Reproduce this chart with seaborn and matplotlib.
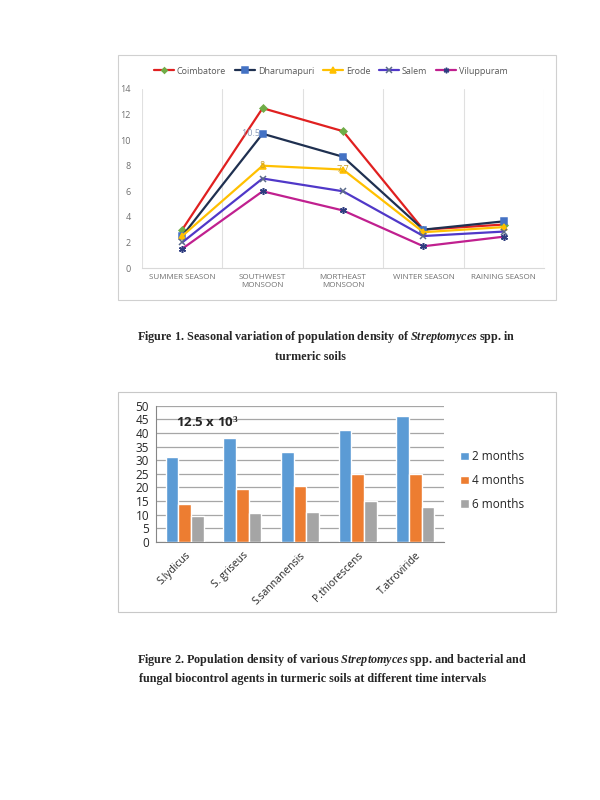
import numpy as np
import pandas as pd
import matplotlib
matplotlib.use("Agg")
import matplotlib.pyplot as plt
from matplotlib.patches import Rectangle
import seaborn as sns

# figure 1 data
seasons = ["SUMMER SEASON", "SOUTHWEST\nMONSOON", "MORTHEAST\nMONSOON", "WINTER SEASON", "RAINING SEASON"]
coimbatore = [3.0, 12.5, 10.7, 3.0, 3.4]
dharumapuri = [2.5, 10.5, 8.7, 3.0, 3.65]
erode = [2.5, 8.0, 7.7, 2.8, 3.2]
salem = [2.0, 7.0, 6.0, 2.5, 2.85]
viluppuram = [1.5, 6.0, 4.5, 1.7, 2.45]

# figure 2 data
agents = ["S.lydicus", "S. griseus", "S.sannanensis", "P.thiorescens", "T.atroviride"]
months = ["2 months", "4 months", "6 months"]
m2 = [31, 38, 33, 41, 46.2]
m4 = [14, 19.5, 20.3, 25, 24.8]
m6 = [9.3, 10.7, 11.1, 15.1, 12.9]

sns.set_style("white")
plt.rcParams['font.family'] = ['Open Sans', 'DejaVu Sans']
plt.rcParams['mathtext.fontset'] = 'custom'
plt.rcParams['mathtext.it'] = 'Liberation Serif:bold:italic'
plt.rcParams['mathtext.rm'] = 'Liberation Serif:bold'

fig = plt.figure(figsize=(6, 8), dpi=100)
W, H = 600, 800

def fbox(x0, y0, x1, y1):
    return [x0 / W, 1 - y1 / H, (x1 - x0) / W, (y1 - y0) / H]

# chart frames
fig.patches.append(Rectangle((118 / W, 1 - 300 / H), 438 / W, 245 / H, transform=fig.transFigure,
                             fill=False, edgecolor="#d0d0d0", lw=0.8))
fig.patches.append(Rectangle((118 / W, 1 - 612 / H), 438 / W, 220 / H, transform=fig.transFigure,
                             fill=False, edgecolor="#c8c8c8", lw=0.8))

# ---- figure 1: line chart
ax1 = fig.add_axes(fbox(142, 89, 544, 268))
series = [
    ("Coimbatore", coimbatore, "#e02020", "D", "#70ad47", "#70ad47", 3.5),
    ("Dharumapuri", dharumapuri, "#1f3050", "s", "#4472c4", "#4472c4", 5),
    ("Erode", erode, "#ffc000", "^", "#ffc000", "#ffc000", 5),
    ("Salem", salem, "#5038c8", "x", "#5b6b8a", "#5b6b8a", 5),
    ("Viluppuram", viluppuram, "#c0208f", (6, 2, 0), "#2f3d80", "#2f3d80", 5),
]
for name, vals, lc, mk, mfc, mec, ms in series:
    sns.lineplot(x=seasons, y=vals, ax=ax1, sort=False, color=lc, lw=1.6, marker=mk,
                 markersize=ms, markerfacecolor=mfc, markeredgecolor=mec, markeredgewidth=1.1,
                 label=name)

ax1.text(1, dharumapuri[1], "10.5 ", color="#8a9bb8", fontsize=6.5, ha="right", va="center")
ax1.text(1, erode[1], "8", color="#c9a030", fontsize=6.5, ha="center", va="center")
ax1.text(2, erode[2], "7.7", color="#c9a030", fontsize=6.5, ha="center", va="center")

ax1.set_xlim(-0.5, 4.5)
ax1.set_ylim(0, 14)
ax1.set_yticks(np.arange(0, 15, 2))
ax1.set_xticks(range(5))
ax1.set_xticklabels(seasons, fontsize=5.8, color="#707070", linespacing=1.3)
ax1.tick_params(axis="y", labelsize=6.5, labelcolor="#707070", length=0, pad=8)
ax1.tick_params(axis="x", length=0, pad=4)
ax1.set_xticks(np.arange(-0.5, 5, 1), minor=True)
ax1.grid(which="minor", axis="x", color="#e0e0e0", lw=0.8)
ax1.grid(which="major", visible=False)
for s in ["top", "right", "left"]:
    ax1.spines[s].set_visible(False)
ax1.spines["bottom"].set_color("#d9d9d9")
ax1.set_xlabel("")
ax1.set_ylabel("")
ax1.legend(loc="center", bbox_to_anchor=(0.47, 1.1), ncol=5, frameon=False, fontsize=6.5,
           handlelength=2.2, columnspacing=1.0, handletextpad=0.3, labelcolor="#595959",
           markerscale=0.8)

fig.text(326 / W, 1 - 337 / H, r"Figure 1. Seasonal variation of population density of $\it{Streptomyces}$ spp. in",
         ha="center", va="center", fontsize=8.75, fontweight="bold", family="Liberation Serif")
fig.text(310 / W, 1 - 357 / H, "turmeric soils", ha="center", va="center", fontsize=8.75,
         fontweight="bold", family="Liberation Serif")

# ---- figure 2: grouped bar chart
df2 = pd.DataFrame({
    "agent": agents * 3,
    "period": [months[0]] * 5 + [months[1]] * 5 + [months[2]] * 5,
    "value": m2 + m4 + m6,
})
ax2 = fig.add_axes(fbox(156, 405.7, 444, 541.7))
sns.barplot(data=df2, x="agent", y="value", hue="period", ax=ax2, width=0.66, gap=0,
            palette=["#5b9bd5", "#ed7d31", "#a5a5a5"], saturation=1, zorder=3)
ax2.set_ylim(0, 50)
ax2.set_yticks(np.arange(0, 51, 5))
ax2.yaxis.grid(True, color="#a6a6a6", lw=0.9, zorder=0)
ax2.set_axisbelow(True)
ax2.tick_params(axis="y", labelsize=8.5, length=3, width=0.8, color="#868686", pad=2)
ax2.set_xticks(range(5))
ax2.set_xticklabels(agents, rotation=45, ha="right", rotation_mode="anchor", fontsize=7.5)
ax2.tick_params(axis="x", length=0, pad=6)
ax2.set_xticks(np.arange(-0.5, 5, 1), minor=True)
ax2.tick_params(axis="x", which="minor", length=4, color="#868686", direction="out")
for s in ["top", "right"]:
    ax2.spines[s].set_visible(False)
ax2.spines["left"].set_color("#868686")
ax2.spines["bottom"].set_color("#868686")
ax2.set_xlabel("")
ax2.set_ylabel("")
ax2.text(0.07, 0.88, r"12.5 x 10$^{3}$", transform=ax2.transAxes, fontsize=9.5,
         fontweight="bold", va="center")
ax2.legend(loc="center left", bbox_to_anchor=(1.02, 0.45), frameon=False, fontsize=8.5,
           handlelength=0.7, handleheight=0.7, handletextpad=0.3, labelspacing=0.9)

fig.text(137 / W, 1 - 660 / H, r"Figure 2. Population density of various $\it{Streptomyces}$ spp. and bacterial and",
         ha="left", va="center", fontsize=8.7, fontweight="bold", family="Liberation Serif")
fig.text(139 / W, 1 - 679 / H, "fungal biocontrol agents in turmeric soils at different time intervals",
         ha="left", va="center", fontsize=8.7, fontweight="bold", family="Liberation Serif")

fig.savefig("out.png", dpi=100)
